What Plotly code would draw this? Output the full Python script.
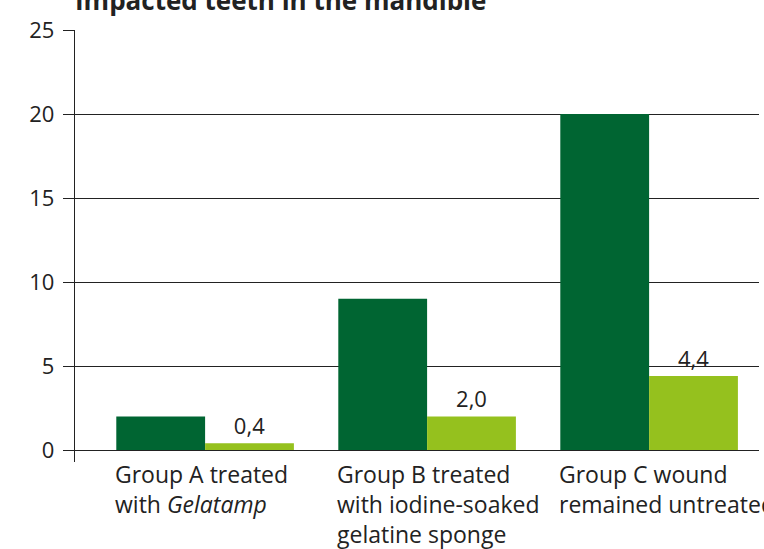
import plotly.graph_objects as go

categories = ["Group A treated<br>with <i>Gelatamp</i>",
              "Group B treated<br>with iodine-soaked<br>gelatine sponge",
              "Group C wound<br>remained untreated"]
series_dark = [2, 9, 20]
series_light = [0.4, 2.0, 4.4]
y_ticks = [0, 5, 10, 15, 20, 25]
title = "Impacted teeth in the mandible"

FONT = "Open Sans"
DARK = "#006532"
LIGHT = "#95C11E"
TXT = "#222222"

xs = list(range(len(categories)))
light_labels = [f"{v:.1f}".replace(".", ",") for v in series_light]

fig = go.Figure()
fig.add_trace(go.Bar(x=xs, y=series_dark, marker=dict(color=DARK, line=dict(width=0)),
                     showlegend=False, hoverinfo="skip"))
fig.add_trace(go.Bar(x=xs, y=series_light, marker=dict(color=LIGHT, line=dict(width=0)),
                     text=light_labels, textposition="outside",
                     textfont=dict(family=FONT, size=22, color=TXT),
                     cliponaxis=False, showlegend=False, hoverinfo="skip"))

for i, c in enumerate(categories):
    fig.add_annotation(x=i - 0.4, xref="x", y=0, yref="paper", yanchor="top",
                       xanchor="left", align="left", text=c, showarrow=False,
                       font=dict(family=FONT, size=23, color=TXT), yshift=6,
                       xshift=-3)

fig.add_annotation(x=0, xref="paper", y=1, yref="paper", xanchor="left", yanchor="middle",
                   text=f"<b>{title}</b>", showarrow=False, yshift=30, xshift=-2,
                   font=dict(family=FONT, size=26, color=TXT))

fig.update_layout(
    width=764, height=549,
    margin=dict(l=75, r=5, t=30, b=87, autoexpand=False),
    paper_bgcolor="white", plot_bgcolor="white",
    barmode="group", bargap=0.2, bargroupgap=0,
    font=dict(family=FONT, size=18, color=TXT),
    xaxis=dict(range=[-0.586, 2.495], showticklabels=False, showgrid=False,
               zeroline=False, showline=False, ticks="", automargin=False),
    yaxis=dict(range=[-0.714, 25], tickvals=y_ticks, ticks="outside", ticklen=11,
               tickcolor=TXT, tickwidth=1.3, showgrid=True, gridcolor=TXT, gridwidth=1.3,
               zeroline=False, showline=True, linecolor=TXT, linewidth=1.3,
               ticklabelstandoff=4, automargin=False,
               tickfont=dict(family=FONT, size=22, color=TXT)),
)
fig.write_html("out.html", config={"displayModeBar": False},
               post_script="document.body.style.margin='0';document.body.style.overflow='hidden';")
